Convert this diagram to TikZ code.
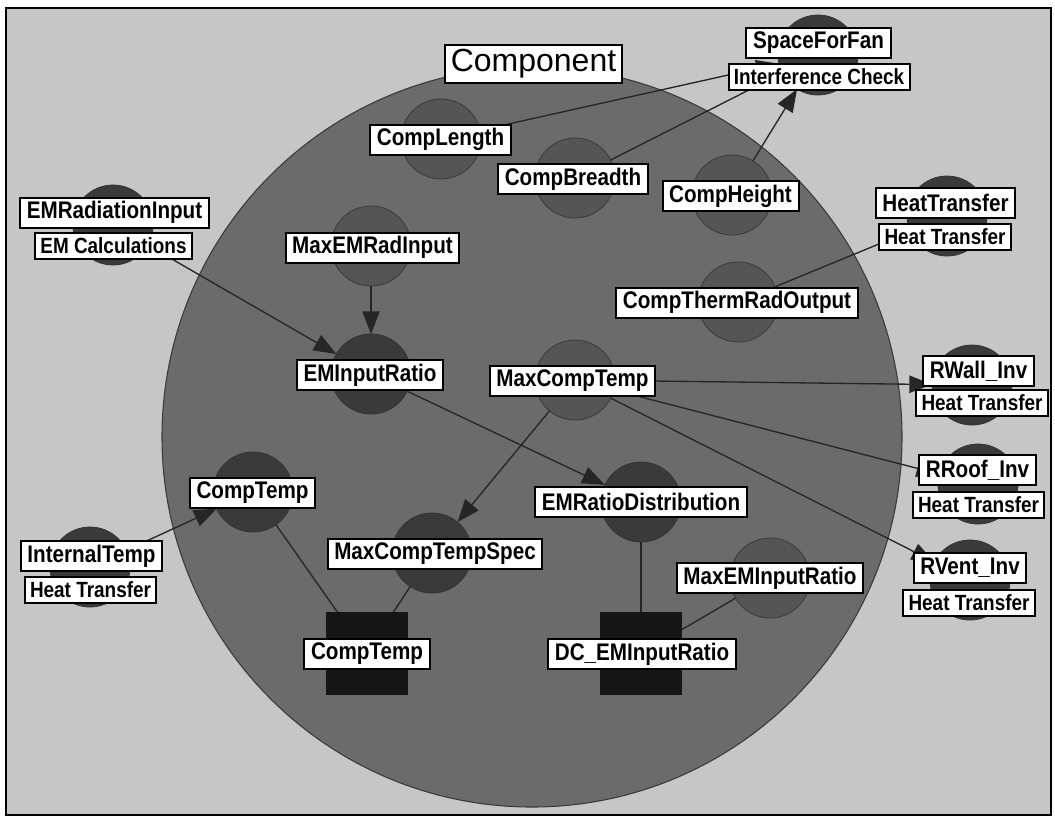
\documentclass[tikz,border=0pt]{standalone}
\usepackage{fontspec}
\setmainfont{Liberation Sans}
\newfontfamily\condfont{Liberation Sans}[FakeStretch=0.86]
\usetikzlibrary{arrows.meta}
\definecolor{bgcol}{HTML}{C6C6C6}
\definecolor{bigcol}{HTML}{6B6B6B}
\definecolor{midcol}{HTML}{555555}
\definecolor{darkcol}{HTML}{3A3A3A}
\definecolor{conscol}{HTML}{161616}
\definecolor{linecol}{HTML}{262626}
\tikzset{
  lbl/.style={draw=black, line width=1.5pt, fill=white, inner xsep=5pt, inner ysep=0pt,
    minimum height=22.5pt, font=\condfont\bfseries\fontsize{18}{18}\selectfont, text=black},
  lblb/.style={lbl, inner xsep=4pt, minimum height=19.5pt, font=\condfont\bfseries\fontsize{16.5}{16.5}\selectfont},
  titlelbl/.style={draw=black, line width=1.5pt, fill=white, inner xsep=4pt, inner ysep=0pt,
    minimum height=28pt, font=\fontsize{24}{24}\selectfont},
  varc/.style={circle, minimum size=60pt, inner sep=0pt, outer sep=0pt, fill=midcol, draw=darkcol, line width=0.6pt},
  dvarc/.style={varc, fill=darkcol, draw=black!80},
  extc/.style={varc, fill=darkcol, draw=black!80},
  consr/.style={rectangle, minimum width=61.5pt, minimum height=62pt, inner sep=0pt, outer sep=0pt, fill=conscol},
  arr/.style={draw=linecol, line width=1pt, -{Triangle[length=17pt,width=13pt]}},
  link/.style={draw=linecol, line width=1pt}
}
\begin{document}
\begin{tikzpicture}[x=0.75pt,y=-0.75pt]
\useasboundingbox (0,0) rectangle (1055,819);
\fill[white] (0,0) rectangle (1055,819);
\fill[bgcol] (6,8) rectangle (1051,815);
\draw[black, line width=2pt] (6,8) rectangle (1051,815);
% big component circle
\node[circle, minimum size=555pt, inner sep=0pt, fill=bigcol, draw=darkcol, line width=0.8pt] (big) at (532,437) {};
% circles
\node[extc] (cFan) at (818,55) {};
\node[varc] (cLen) at (441,139) {};
\node[varc] (cBre) at (575,178) {};
\node[varc] (cHei) at (732,195) {};
\node[extc] (cHT) at (947,216) {};
\node[varc] (cTRO) at (738,302) {};
\node[extc] (cEMR) at (113,225) {};
\node[varc] (cMER) at (371,246) {};
\node[dvarc] (cEIR) at (371,374) {};
\node[varc] (cMCT) at (575,380) {};
\node[extc] (cRW) at (972,385) {};
\node[extc] (cRR) at (978,484) {};
\node[extc] (cRV) at (970,580) {};
\node[dvarc] (cCT) at (253,492) {};
\node[extc] (cIT) at (90,567) {};
\node[dvarc] (cMCTS) at (432,553) {};
\node[dvarc] (cERD) at (641,502) {};
\node[varc] (cMEIR) at (770,578) {};
\node[consr] (kCT) at (366.5,653.5) {};
\node[consr] (kDC) at (641,653.5) {};
% connectors
\draw[arr] (cLen) -- (cFan);
\draw[arr] (cBre) -- (cFan);
\draw[arr] (cHei) -- (cFan);
\draw[arr] (cTRO) -- (cHT);
\draw[arr] (cEMR) -- (cEIR);
\draw[arr] (cMER) -- (cEIR);
\draw[arr] (cEIR) -- (cERD);
\draw[arr] (cMCT) -- (cMCTS);
\draw[arr] (cMCT) -- (cRW);
\draw[arr] (cMCT) -- (cRR);
\draw[arr] (cMCT) -- (cRV);
\draw[arr] (cIT) -- (cCT);
\draw[link] (cCT) -- (kCT);
\draw[link] (cMCTS) -- (kCT);
\draw[link] (cERD) -- (kDC);
\draw[link] (cMEIR) -- (kDC);
% labels
\node[titlelbl] (lComp) at (533.5,64) {Component};
\node[lbl] (lFan) at (818.5,42.5) {SpaceForFan};
\node[lblb] (lFan2) at (819,76.5) {Interference Check};
\node[lbl] (lLen) at (440.5,139.5) {CompLength};
\node[lbl] (lBre) at (573,179) {CompBreadth};
\node[lbl] (lHei) at (730.5,196) {CompHeight};
\node[lbl] (lHT) at (945.5,203) {HeatTransfer};
\node[lblb] (lHT2) at (945,236.5) {Heat Transfer};
\node[lbl] (lTRO) at (737,302.5) {CompThermRadOutput};
\node[lbl] (lEMR) at (114.5,212.5) {EMRadiationInput};
\node[lblb] (lEMR2) at (113.5,245.5) {EM Calculations};
\node[lbl] (lMER) at (372.5,247.5) {MaxEMRadInput};
\node[lbl] (lEIR) at (370,375) {EMInputRatio};
\node[lbl] (lMCT) at (572.5,381) {MaxCompTemp};
\node[lbl] (lRW) at (978.5,371) {RWall\_Inv};
\node[lblb] (lRW2) at (982,403) {Heat Transfer};
\node[lbl] (lRR) at (977.5,470) {RRoof\_Inv};
\node[lblb] (lRR2) at (978.5,504.5) {Heat Transfer};
\node[lbl] (lRV) at (970,567.5) {RVent\_Inv};
\node[lblb] (lRV2) at (969,602.5) {Heat Transfer};
\node[lbl] (lCT) at (252.5,493) {CompTemp};
\node[lbl] (lIT) at (91.5,556) {InternalTemp};
\node[lblb] (lIT2) at (90.5,590) {Heat Transfer};
\node[lbl] (lMCTS) at (435,554) {MaxCompTempSpec};
\node[lbl] (lkCT) at (367,654) {CompTemp};
\node[lbl] (lERD) at (641,502) {EMRatioDistribution};
\node[lbl] (lMEIR) at (770,578) {MaxEMInputRatio};
\node[lbl] (lkDC) at (642,654) {DC\_EMInputRatio};
\end{tikzpicture}
\end{document}
